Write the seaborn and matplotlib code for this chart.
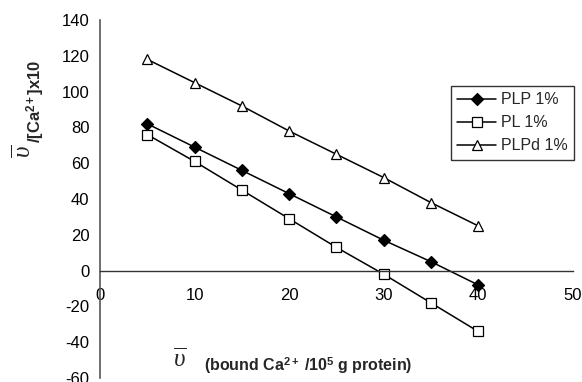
import numpy as np
import pandas as pd
import matplotlib
matplotlib.use('Agg')
import matplotlib.pyplot as plt
import seaborn as sns

bound_ca = [5, 10, 15, 20, 25, 30, 35, 40]
plp_1 = [82, 69, 56, 43, 30, 17, 5, -8]
pl_1 = [76, 61, 45, 29, 13, -2, -18, -34]
plpd_1 = [118, 105, 92, 78, 65, 52, 38, 25]
series_names = ['PLP 1%', 'PL 1%', 'PLPd 1%']

df = pd.DataFrame({
    'x': bound_ca * 3,
    'y': plp_1 + pl_1 + plpd_1,
    'series': np.repeat(series_names, len(bound_ca)),
})

sns.set_style('white')
plt.rcParams['font.family'] = ['Liberation Sans', 'DejaVu Sans']
plt.rcParams['axes.unicode_minus'] = False
plt.rcParams['mathtext.fontset'] = 'custom'
plt.rcParams['mathtext.rm'] = 'Liberation Sans'
plt.rcParams['mathtext.bf'] = 'Liberation Sans:bold'
plt.rcParams['mathtext.it'] = 'Liberation Serif:italic'

W, H = 582, 382
fig = plt.figure(figsize=(W / 100, H / 100), dpi=100)
ax = fig.add_axes([100 / W, 1 - 378 / H, 472.7 / W, 358 / H])

styles = {
    'PLP 1%': dict(marker='D', markersize=6, markerfacecolor='black', markeredgecolor='black'),
    'PL 1%': dict(marker='s', markersize=7, markerfacecolor='white', markeredgecolor='black'),
    'PLPd 1%': dict(marker='^', markersize=7.5, markerfacecolor='white', markeredgecolor='black'),
}
for name in series_names:
    sub = df[df['series'] == name]
    sns.lineplot(data=sub, x='x', y='y', color='black', linewidth=1.1,
                 markeredgewidth=0.9, label=name, ax=ax, **styles[name])

ax.set_xlim(0, 50)
ax.set_ylim(-60, 140)
ax.set_xticks(range(0, 51, 10))
ax.set_yticks(range(-60, 141, 20))
ax.set_xlabel('')
ax.set_ylabel('')

for s in ['top', 'right']:
    ax.spines[s].set_visible(False)
ax.spines['bottom'].set_position(('data', 0))
ax.spines['bottom'].set_color('#333333')
ax.spines['left'].set_color('#555555')
ax.spines['left'].set_linewidth(1.2)
ax.spines['bottom'].set_linewidth(1.0)
ax.tick_params(axis='both', direction='inout', length=7, width=1, colors='#333333',
               labelcolor='black', labelsize=12)
ax.tick_params(axis='x', pad=9)
ax.tick_params(axis='y', pad=4)

leg = ax.legend(loc='upper left', bbox_to_anchor=(451 / W, 1 - 86 / H),
                bbox_transform=fig.transFigure, frameon=True, fancybox=False,
                edgecolor='black', fontsize=11.5, handlelength=2.4,
                handletextpad=0.3, labelspacing=0.5, borderpad=0.4,
                borderaxespad=0)
leg.get_frame().set_linewidth(1.0)

# y label: overlined upsilon plus bold text
fig.text(24 / W, 1 - 151 / H, r'$\overline{\upsilon}$', rotation=90,
         ha='center', va='center', fontsize=18)
fig.text(36 / W, 1 - 101 / H, r'/[Ca$^{\mathbf{2+}}$]x10', rotation=90,
         ha='center', va='center', fontsize=12, fontweight='bold')

# x label
fig.text(180 / W, 1 - 360 / H, r'$\overline{\upsilon}$', ha='center', va='center',
         fontsize=18)
fig.text(204 / W, 1 - 366 / H, r'(bound Ca$^{\mathbf{2+}}$ /10$^{\mathbf{5}}$ g protein)',
         ha='left', va='center', fontsize=11.5, fontweight='bold')

fig.savefig('out.png', dpi=100)
